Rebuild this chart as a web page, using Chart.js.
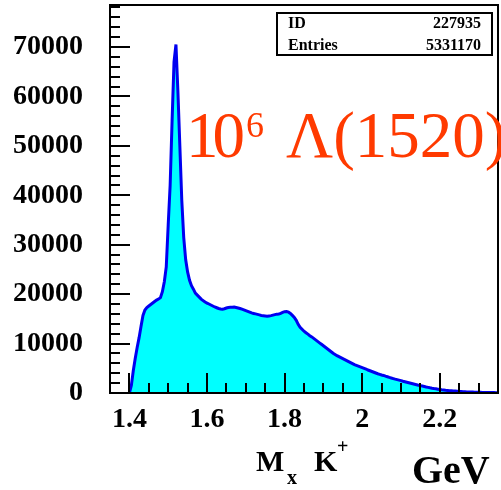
<!DOCTYPE html>
<html>
<head>
<meta charset="utf-8">
<script src="https://cdn.jsdelivr.net/npm/chart.js@4.4.1/dist/chart.umd.min.js"></script>
<style>
  html, body { margin: 0; padding: 0; background: #fff; }
  #wrap { width: 501px; height: 490px; }
</style>
</head>
<body>
<div id="wrap"><canvas id="massChart"></canvas></div>
<script>
// Missing mass M_x(K+), 0.005 GeV steps starting at 1.400 GeV
const binStart = 1.400;
const binWidth = 0.005;
const counts = [
    0, 1500, 4500, 7000, 9200, 11200, 13500, 15700, 16800, 17300,
    17600, 17900, 18200, 18500, 18800, 19000, 19300, 20500, 22500, 25500,
    34000, 42000, 55000, 67000, 70500, 61000, 50000, 39000, 31500, 27000,
    24500, 22800, 21700, 21000, 20200, 19800, 19400, 19000, 18700, 18400,
    18200, 18000, 17800, 17600, 17400, 17250, 17100, 17000, 16950, 17050,
    17200, 17300, 17350, 17350, 17400, 17300, 17200, 17100, 16950, 16800,
    16650, 16500, 16350, 16200, 16100, 16000, 15900, 15800, 15700, 15650,
    15600, 15550, 15600, 15650, 15750, 15850, 15950, 16000, 16100, 16300,
    16450, 16500, 16350, 16100, 15700, 15300, 14700, 13900, 13300, 12900,
    12500, 12200, 11900, 11600, 11350, 11050, 10750, 10450, 10150, 9850,
    9550, 9250, 8950, 8650, 8350, 8050, 7800, 7550, 7350, 7150,
    6950, 6750, 6550, 6350, 6150, 5950, 5750, 5600, 5450, 5300,
    5150, 5000, 4850, 4650, 4500, 4350, 4200, 4050, 3900, 3780,
    3650, 3550, 3400, 3280, 3150, 3030, 2920, 2800, 2700, 2600,
    2500, 2380, 2280, 2180, 2080, 1980, 1880, 1780, 1680, 1580,
    1490, 1400, 1310, 1220, 1140, 1050, 970, 900, 840, 780,
    720, 660, 610, 560, 520, 480, 450, 420, 390, 360,
    300, 280, 260, 240, 220, 210, 200, 190, 175, 160,
    140, 130, 120, 110, 100, 95, 90, 85, 80, 75,
    70
];

const xTicks = [1.4, 1.6, 1.8, 2.0, 2.2];
const yTicks = [0, 10000, 20000, 30000, 40000, 50000, 60000, 70000];
const xRange = [1.35, 2.35];
const yRange = [0, 78500];

const statsLabels = ['ID', 'Entries'];
const statsValues = ['227935', '5331170'];

const serif = '"Liberation Serif", "Times New Roman", serif';

// small ticks: every 0.05 GeV and every 2000 entries
const xMinor = [];
for (let i = 0; i <= 20; i++) xMinor.push(+(1.35 + i * 0.05).toFixed(2));
const yMinor = [];
for (let v = 0; v <= 78000; v += 2000) yMinor.push(v);

const points = counts.map((c, i) => ({ x: binStart + i * binWidth, y: c }));

// frame, inward ticks, stats box, labels
const paw = {
    id: 'paw',
    afterDatasetsDraw(chart) {
        const { ctx, chartArea: a, scales: { x, y } } = chart;
        ctx.save();
        ctx.strokeStyle = '#000';
        ctx.lineWidth = 2;
        ctx.beginPath();
        xMinor.forEach(v => {
            const px = Math.round(x.getPixelForValue(v));
            ctx.moveTo(px, a.bottom); ctx.lineTo(px, a.bottom - 10);
        });
        xTicks.forEach(v => {
            const px = Math.round(x.getPixelForValue(v));
            ctx.moveTo(px, a.bottom); ctx.lineTo(px, a.bottom - 20);
        });
        yMinor.forEach(v => {
            const py = Math.round(y.getPixelForValue(v));
            ctx.moveTo(a.left, py); ctx.lineTo(a.left + 10, py);
        });
        yTicks.forEach(v => {
            const py = Math.round(y.getPixelForValue(v));
            ctx.moveTo(a.left, py); ctx.lineTo(a.left + 20, py);
        });
        ctx.stroke();
        ctx.strokeRect(a.left, a.top, a.right - a.left, a.bottom - a.top);

        // stats box
        ctx.fillStyle = '#fff';
        ctx.fillRect(277, 13, 215, 42);
        ctx.strokeRect(277, 13, 215, 42);
        ctx.fillStyle = '#000';
        ctx.font = 'bold 16px ' + serif;
        statsLabels.forEach((s, i) => {
            ctx.textAlign = 'left';
            ctx.fillText(s, 288, 28 + i * 22);
            ctx.textAlign = 'right';
            ctx.fillText(statsValues[i], 481, 28 + i * 22);
        });

        // red annotation
        ctx.fillStyle = '#ff3a00';
        ctx.textAlign = 'left';
        ctx.font = '65px ' + serif;
        ctx.letterSpacing = '-6px';
        ctx.fillText('10', 186, 157);
        ctx.letterSpacing = '0px';
        ctx.font = '36px ' + serif;
        ctx.fillText('6', 246, 137);
        ctx.font = '65px ' + serif;
        ctx.fillText('\u039B(1520)', 286, 157);

        // axis title
        ctx.fillStyle = '#000';
        ctx.font = 'bold 30px ' + serif;
        ctx.fillText('M', 256, 471);
        ctx.fillText('K', 314, 471);
        ctx.font = 'bold 20px ' + serif;
        ctx.fillText('x', 287, 484);
        ctx.fillText('+', 337, 453);
        ctx.font = 'bold 40px ' + serif;
        ctx.fillText('GeV', 412, 483);
        ctx.restore();
    }
};

new Chart(document.getElementById('massChart'), {
    type: 'line',
    data: {
        datasets: [{
            data: points,
            borderColor: '#0000f0',
            backgroundColor: '#00ffff',
            borderWidth: 3,
            fill: 'origin',
            pointRadius: 0,
            tension: 0
        }]
    },
    options: {
        responsive: true,
        maintainAspectRatio: false,
        animation: false,
        layout: { padding: { top: 5, right: 3, left: 0, bottom: 0 } },
        plugins: { legend: { display: false }, tooltip: { enabled: false } },
        scales: {
            x: {
                type: 'linear',
                min: xRange[0],
                max: xRange[1],
                grid: { display: false, drawTicks: false },
                border: { display: false },
                afterBuildTicks: s => { s.ticks = xTicks.map(v => ({ value: v })); },
                afterFit: s => { s.height = 97; s.paddingLeft = 0; s.paddingRight = 0; },
                ticks: {
                    autoSkip: false,
                    maxRotation: 0,
                    padding: 10,
                    color: '#000',
                    font: { family: serif, weight: 'bold', size: 28 },
                    callback: v => String(+v.toFixed(1))
                }
            },
            y: {
                min: yRange[0],
                max: yRange[1],
                grid: { display: false, drawTicks: false },
                border: { display: false },
                afterBuildTicks: s => { s.ticks = yTicks.map(v => ({ value: v })); },
                afterFit: s => { s.width = 110; s.paddingTop = 0; s.paddingBottom = 0; },
                ticks: {
                    autoSkip: false,
                    padding: 27,
                    color: '#000',
                    font: { family: serif, weight: 'bold', size: 28 },
                    callback: v => String(v)
                }
            }
        }
    },
    plugins: [paw]
});
</script>
</body>
</html>
